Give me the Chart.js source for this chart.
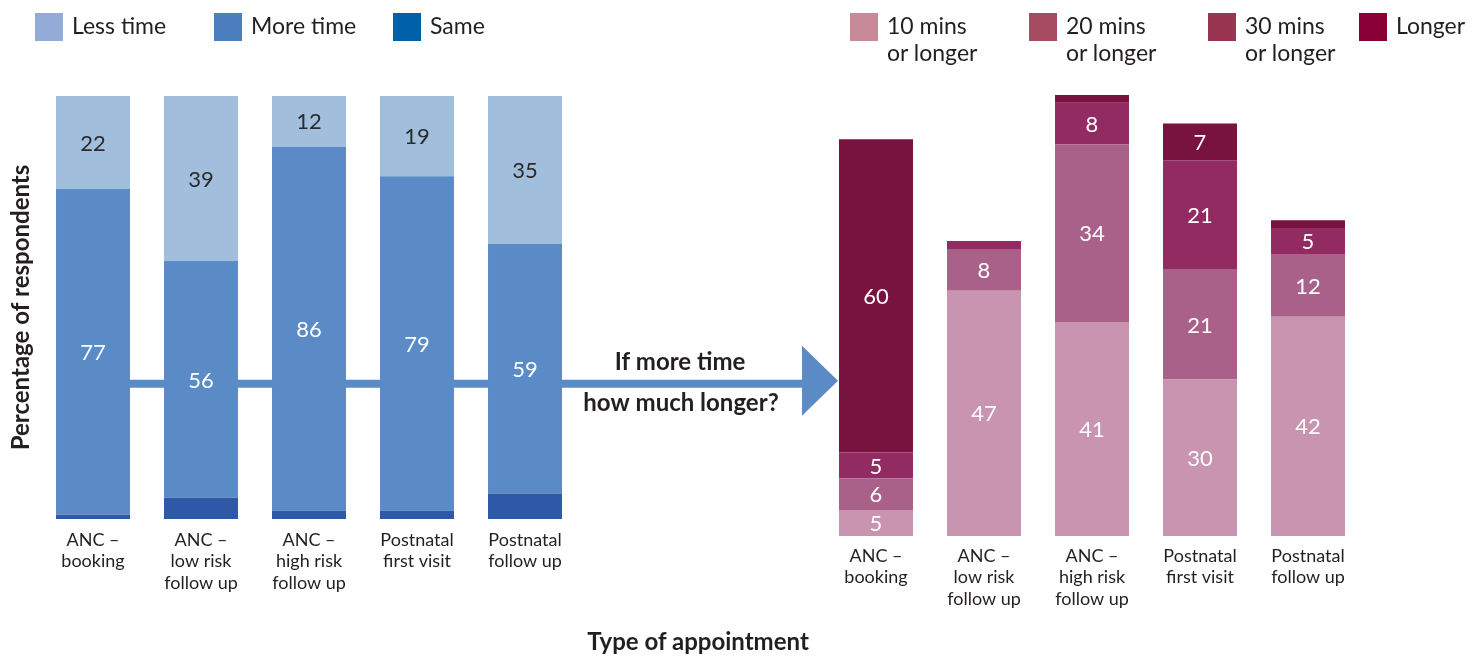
<!DOCTYPE html>
<html>
<head>
<meta charset="utf-8">
<script src="https://cdn.jsdelivr.net/npm/chart.js@4.4.1/dist/chart.umd.min.js"></script>
<style>
  body { margin: 0; background: #fff; font-family: Lato, sans-serif; color: #231f20; overflow: hidden; }
  #wrap { position: relative; width: 1482px; height: 657px; }
  canvas { position: absolute; top: 0; }
  .legend { position: absolute; top: 13px; display: flex; font-size: 23px; line-height: 27px; }
  .legend .item { display: flex; align-items: flex-start; }
  .legend .box { width: 28px; height: 28px; margin-right: 9px; flex: none; }
  .legend .txt { margin-top: -1px; }
  #xTitle { position: absolute; left: 498px; width: 400px; top: 627px; text-align: center; font-weight: bold; font-size: 24px; line-height: 28px; }
</style>
</head>
<body>
<div id="wrap">
  <canvas id="leftChart" width="840" height="657" style="left:0"></canvas>
  <canvas id="rightChart" width="682" height="657" style="left:800px"></canvas>
  <div class="legend" id="leftLegend" style="left:35px"></div>
  <div class="legend" id="rightLegend" style="left:850px"></div>
  <div id="xTitle">Type of appointment</div>
</div>
<script>
// categories (same five appointment types on both panels)
const categories = [
    ['ANC –', 'booking'],
    ['ANC –', 'low risk', 'follow up'],
    ['ANC –', 'high risk', 'follow up'],
    ['Postnatal', 'first visit'],
    ['Postnatal', 'follow up']
];

// left panel: time spent compared with expectation (%)
const lessTime = [22, 39, 12, 19, 35];
const moreTime = [77, 56, 86, 79, 59];
const sameTime = [1, 5, 2, 2, 6];

// right panel: if more time, how much longer (%)
const tenMins = [5, 47, 41, 30, 42];
const twentyMins = [6, 8, 34, 21, 12];
const thirtyMins = [5, 1.5, 8, 21, 5];
const longer = [60, 0, 1.5, 7, 1.5];

const leftLegendLabels = [['Less time'], ['More time'], ['Same']];
const rightLegendLabels = [['10 mins', 'or longer'], ['20 mins', 'or longer'], ['30 mins', 'or longer'], ['Longer']];

const leftBarColors = { less: '#a2bedd', more: '#5b8bc6', same: '#2f59a8' };
const leftSwatches = ['#94abd7', '#4d7ebe', '#0060a8'];
const rightBarColors = ['#c894b0', '#aa6189', '#922b62', '#78133f'];
const rightSwatches = ['#c98a97', '#a64b61', '#9a3551', '#880035'];

const leftItemWidths = [179, 179, null];
const rightItemWidths = [179, 179, 151, null];

function buildLegend(el, labels, colors, widths) {
    labels.forEach((lines, i) => {
        const item = document.createElement('div');
        item.className = 'item';
        if (widths[i]) item.style.width = widths[i] + 'px';
        item.innerHTML = `<span class="box" style="background:${colors[i]}"></span><span class="txt">${lines.join('<br>')}</span>`;
        el.appendChild(item);
    });
}
buildLegend(document.getElementById('leftLegend'), leftLegendLabels, leftSwatches, leftItemWidths);
buildLegend(document.getElementById('rightLegend'), rightLegendLabels, rightSwatches, rightItemWidths);

const FONT = 'Lato';
const TEXT = '#231f20';

const valueLabels = {
    id: 'valueLabels',
    afterDatasetsDraw(chart) {
        const ctx = chart.ctx;
        ctx.save();
        ctx.font = '22px ' + FONT;
        ctx.textAlign = 'center';
        ctx.textBaseline = 'middle';
        chart.data.datasets.forEach((ds, i) => {
            if (!ds.labelColor) return;
            chart.getDatasetMeta(i).data.forEach((bar, j) => {
                const v = ds.data[j];
                if (v < 3) return;
                const p = bar.getProps(['x', 'y', 'base'], true);
                ctx.fillStyle = ds.labelColor;
                ctx.fillText(v, p.x, (p.y + p.base) / 2 + 1);
            });
        });
        ctx.restore();
    }
};

// connecting arrow between the two panels (drawn behind the left bars)
const arrow = {
    id: 'arrow',
    beforeDatasetsDraw(chart) {
        const ctx = chart.ctx;
        const startX = chart.getDatasetMeta(0).data[0].x;
        const y = chart.scales.y.getPixelForValue(32);
        const tipX = chart.width - 2;
        ctx.save();
        ctx.strokeStyle = leftBarColors.more;
        ctx.fillStyle = leftBarColors.more;
        ctx.lineWidth = 8;
        ctx.beginPath();
        ctx.moveTo(startX, y);
        ctx.lineTo(tipX - 32, y);
        ctx.stroke();
        ctx.beginPath();
        ctx.moveTo(tipX - 36, y - 38);
        ctx.lineTo(tipX, y - 3);
        ctx.lineTo(tipX - 36, y + 32);
        ctx.closePath();
        ctx.fill();
        ctx.restore();
    },
    afterDraw(chart) {
        const ctx = chart.ctx;
        const y = chart.scales.y.getPixelForValue(32);
        ctx.save();
        ctx.font = 'bold 24px ' + FONT;
        ctx.fillStyle = TEXT;
        ctx.textAlign = 'center';
        ctx.textBaseline = 'middle';
        ctx.fillText('If more time', 680, y - 21);
        ctx.fillText('how much longer?', 681, y + 20);
        ctx.restore();
    }
};

function xAxis(pad) {
    return {
        stacked: true,
        grid: { display: false, drawTicks: false },
        border: { display: false },
        ticks: { padding: pad, color: TEXT, autoSkip: false, maxRotation: 0, font: { family: FONT, size: 18, lineHeight: 1.2 } },
        afterFit(s) { s.height = 90; }
    };
}

const barShape = { barPercentage: 1, categoryPercentage: 0.685 };

new Chart(document.getElementById('leftChart'), {
    type: 'bar',
    data: {
        labels: categories,
        datasets: [
            { label: 'Same', data: sameTime, backgroundColor: leftBarColors.same, labelColor: null, ...barShape },
            { label: 'More time', data: moreTime, backgroundColor: leftBarColors.more, labelColor: '#ffffff', ...barShape },
            { label: 'Less time', data: lessTime, backgroundColor: leftBarColors.less, labelColor: '#2b2b2b', ...barShape }
        ]
    },
    options: {
        responsive: false,
        animation: false,
        layout: { padding: { top: 96, bottom: 48, left: 0, right: 261 } },
        plugins: { legend: { display: false }, tooltip: { enabled: false } },
        scales: {
            x: xAxis(10),
            y: {
                stacked: true, min: 0, max: 100,
                ticks: { display: false },
                grid: { display: false, drawTicks: false },
                border: { display: false },
                title: { display: true, text: 'Percentage of respondents', color: TEXT, padding: { top: 7, bottom: 0 }, font: { family: FONT, size: 24, weight: 'bold' } },
                afterFit(s) { s.width = 39; }
            }
        }
    },
    plugins: [arrow, valueLabels]
});

new Chart(document.getElementById('rightChart'), {
    type: 'bar',
    data: {
        labels: categories,
        datasets: [
            { label: '10 mins or longer', data: tenMins, backgroundColor: rightBarColors[0], labelColor: '#ffffff', ...barShape },
            { label: '20 mins or longer', data: twentyMins, backgroundColor: rightBarColors[1], labelColor: '#ffffff', ...barShape },
            { label: '30 mins or longer', data: thirtyMins, backgroundColor: rightBarColors[2], labelColor: '#ffffff', ...barShape },
            { label: 'Longer', data: longer, backgroundColor: rightBarColors[3], labelColor: '#ffffff', ...barShape }
        ]
    },
    options: {
        responsive: false,
        animation: false,
        layout: { padding: { top: 14, bottom: 31, left: 22, right: 120 } },
        plugins: { legend: { display: false }, tooltip: { enabled: false } },
        scales: {
            x: xAxis(9),
            y: { stacked: true, min: 0, max: 100, display: false }
        }
    },
    plugins: [valueLabels]
});
</script>
</body>
</html>
